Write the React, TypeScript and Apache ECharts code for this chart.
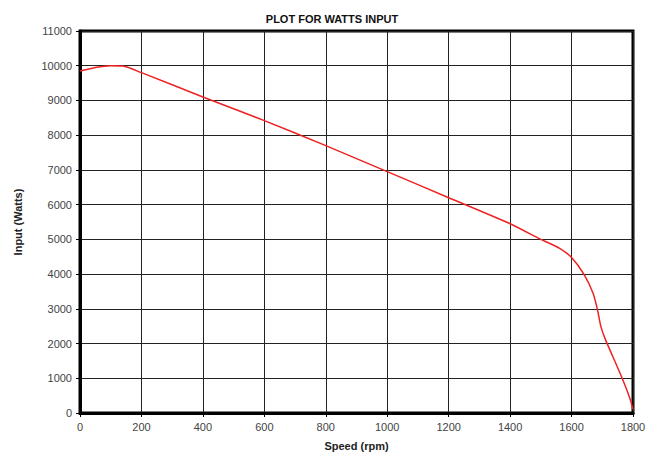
import React, { useEffect, useRef } from "react";
import * as echarts from "echarts";

const speeds = [0, 50, 100, 140, 200, 400, 600, 800, 1000, 1200, 1400, 1500, 1560, 1600, 1640, 1670, 1685, 1695, 1710, 1760, 1790, 1800];
const watts = [9850, 9950, 10000, 9990, 9800, 9100, 8420, 7700, 6950, 6200, 5450, 5000, 4750, 4480, 4000, 3450, 2950, 2500, 2120, 1100, 420, 100];

const titleText = "PLOT FOR WATTS INPUT";
const xName = "Speed (rpm)";
const yName = "Input (Watts)";

export default function App() {
  const ref = useRef<HTMLDivElement>(null);
  useEffect(() => {
    const chart = echarts.init(ref.current!, null, { renderer: "svg" });
    const font = "Liberation Sans, Arial, sans-serif";
    chart.setOption({
      animation: false,
      backgroundColor: "#fff",
      title: {
        text: titleText,
        left: 327,
        textAlign: "center",
        top: 8,
        textStyle: { fontSize: 11, fontWeight: "bold", color: "#111", fontFamily: font },
      },
      grid: {
        left: 80,
        right: 22,
        top: 31,
        bottom: 45,
        show: true,
        borderColor: "#000",
        borderWidth: 3,
        backgroundColor: "#fff",
      },
      xAxis: {
        type: "value",
        min: 0,
        max: 1800,
        interval: 200,
        name: xName,
        nameLocation: "middle",
        nameGap: 27,
        nameTextStyle: { fontSize: 11, fontWeight: "bold", color: "#222", fontFamily: font },
        axisLine: { show: true, lineStyle: { color: "#000", width: 3 } },
        axisTick: { show: true, length: 4, lineStyle: { color: "#000" } },
        axisLabel: { fontSize: 11, color: "#444", fontFamily: font, margin: 8, formatter: (v: number) => String(v) },
        splitLine: { show: true, lineStyle: { color: "#222", width: 1 } },
      },
      yAxis: {
        type: "value",
        min: 0,
        max: 11000,
        interval: 1000,
        name: yName,
        nameLocation: "middle",
        nameGap: 57,
        nameTextStyle: { fontSize: 11, fontWeight: "bold", color: "#222", fontFamily: font },
        axisLine: { show: true, lineStyle: { color: "#000", width: 3 } },
        axisTick: { show: true, length: 4, lineStyle: { color: "#000" } },
        axisLabel: { fontSize: 11, color: "#444", fontFamily: font, margin: 8, formatter: (v: number) => String(v) },
        splitLine: { show: true, lineStyle: { color: "#222", width: 1 } },
      },
      series: [
        {
          type: "line",
          data: speeds.map((s, i) => [s, watts[i]]),
          smooth: 0.2,
          showSymbol: false,
          lineStyle: { color: "#ee2222", width: 1.5 },
        },
      ],
    });
    return () => chart.dispose();
  }, []);
  return <div ref={ref} style={{ position: "absolute", left: 0, top: 0, width: 655, height: 458 }} />;
}
